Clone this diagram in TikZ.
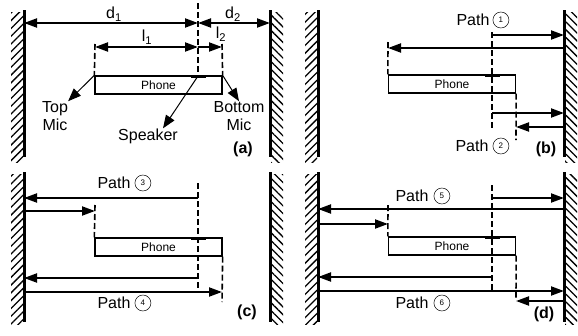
\documentclass[tikz,border=0pt]{standalone}
\usepackage{fontspec}
\setmainfont{Liberation Sans}
\usetikzlibrary{arrows.meta,patterns.meta,positioning}

\tikzset{
	wall/.style={line width=3pt},
	hatchL/.style={pattern={Lines[angle=45,distance=5.5pt,line width=1.3pt]}},
	hatchR/.style={pattern={Lines[angle=-45,distance=5.5pt,line width=1.3pt]}},
	guide/.style={line width=1.6pt, dash pattern=on 6pt off 3pt},
	ray/.style={line width=2pt, -{Triangle[length=13pt,width=9pt]}},
	dim/.style={line width=2pt, {Triangle[length=13pt,width=9pt]}-{Triangle[length=13pt,width=9pt]}},
	pointer/.style={line width=1pt, -{Triangle[length=13pt,width=10pt]}},
	phone/.style={draw, line width=1.3pt, minimum width=127pt, minimum height=18pt, inner sep=0pt, font=\fontsize{12}{14}\selectfont},
	spk/.style={line width=3pt},
	lbl/.style={font=\fontsize{16}{18}\selectfont, inner sep=0pt},
	tag/.style={font=\bfseries\fontsize{16}{18}\selectfont, inner sep=0pt},
	circ/.style={draw, circle, line width=0.5pt, minimum size=16pt, inner sep=0pt, font=\fontsize{8}{9}\selectfont}
}

\begin{document}
\begin{tikzpicture}[x=1pt, y=-1pt]
			\useasboundingbox (0,0) rectangle (578,335);

			% (a)
			\coordinate (aWL) at (24,10);
			\coordinate (aWR) at (270,10);
			\draw[wall]
				(aWL) -- (24,157);
			\path[hatchL]
				(11,12) rectangle (23,162);
			\draw[wall]
				(aWR) -- (270,157);
			\path[hatchR]
				(271,12) rectangle (283,162);
			\node[phone] (phA) at (158.5,85)
				{Phone};
			\coordinate (spkA) at (198,76);
			\draw[spk]
				(191,76) -- (206,76);
			\coordinate (sA0) at (198,3);
			\coordinate (tA0) at (95,44);
			\coordinate (bA0) at (222,44);
			\draw[guide]
				(sA0) -- (spkA);
			\draw[guide]
				(tA0) -- (phA.north west);
			\draw[guide]
				(bA0) -- (phA.north east);
			\coordinate (dA) at (198,23);
			\draw[dim]
				(aWL |- dA) -- (dA);
			\draw[dim]
				(dA) -- (aWR |- dA);
			\coordinate (lA) at (198,47);
			\draw[dim]
				(tA0 |- lA) -- (lA);
			\draw[ray]
				(lA) -- (bA0 |- lA);
			\node[lbl] (d1) at (114,14)
				{d\textsubscript{1}};
			\node[lbl] (d2) at (233,14)
				{d\textsubscript{2}};
			\node[lbl] (l1) at (147,37)
				{l\textsubscript{1}};
			\node[lbl] (l2) at (221,34)
				{l\textsubscript{2}};
			\node[lbl, align=center] (topmic) at (55,116)
				{Top\\Mic};
			\node[lbl, align=center] (botmic) at (239,116)
				{Bottom\\Mic};
			\node[lbl] (spkname) at (148,136)
				{Speaker};
			\draw[pointer]
				(phA.north west) -- (topmic.north east);
			\draw[pointer]
				(phA.north east) -- (botmic.north);
			\draw[pointer]
				(spkA) -- ([xshift=15pt]spkname.north);
			\node[tag] (tagA) at (243,149)
				{(a)};

			% (b)
			\coordinate (bWL) at (318,10);
			\coordinate (bWR) at (564,10);
			\draw[wall]
				(bWL) -- (318,157);
			\path[hatchL]
				(305,12) rectangle (317,162);
			\draw[wall]
				(bWR) -- (564,157);
			\path[hatchR]
				(565,12) rectangle (577,162);
			\node[phone] (phB) at (452,84)
				{Phone};
			\draw[spk]
				(485,75) -- (500,75);
			\coordinate (sB0) at (492,32);
			\coordinate (sB1) at (492,128);
			\coordinate (tB0) at (388,42);
			\coordinate (bB1) at (516,140);
			\draw[guide]
				(sB0) -- (sB1);
			\draw[guide]
				(tB0) -- (phB.north west);
			\draw[guide]
				(phB.south east) -- (bB1);
			\coordinate (rB1) at (492,35);
			\coordinate (rB2) at (388,48);
			\coordinate (rB3) at (492,113);
			\coordinate (rB4) at (516,127);
			\draw[ray]
				(rB1) -- (bWR |- rB1);
			\draw[ray]
				(bWR |- rB2) -- (rB2);
			\draw[ray]
				(rB3) -- (bWR |- rB3);
			\draw[ray]
				(bWR |- rB4) -- (rB4);
			\node[lbl] (pathB1) at (473,20)
				{Path};
			\node[circ, right=3pt of pathB1] (numB1)
				{1};
			\node[lbl] (pathB2) at (472,146)
				{Path};
			\node[circ, right=4pt of pathB2] (numB2)
				{2};
			\node[tag] (tagB) at (546,149)
				{(b)};

			% (c)
			\coordinate (cWL) at (24,172);
			\coordinate (cWR) at (270,172);
			\draw[wall]
				(cWL) -- (24,322);
			\path[hatchL]
				(11,174) rectangle (23,324);
			\draw[wall]
				(cWR) -- (270,322);
			\path[hatchR]
				(271,174) rectangle (283,324);
			\node[phone] (phC) at (158.5,247)
				{Phone};
			\draw[spk]
				(191,238) -- (206,238);
			\coordinate (sC0) at (198,183);
			\coordinate (sC1) at (198,288);
			\coordinate (tC0) at (95,205);
			\coordinate (bC1) at (222,302);
			\draw[guide]
				(sC0) -- (sC1);
			\draw[guide]
				(tC0) -- (phC.north west);
			\draw[guide]
				(phC.south east) -- (bC1);
			\coordinate (rC1) at (198,198);
			\coordinate (rC2) at (95,211);
			\coordinate (rC3) at (198,278);
			\coordinate (rC4) at (222,292);
			\draw[ray]
				(rC1) -- (cWL |- rC1);
			\draw[ray]
				(cWL |- rC2) -- (rC2);
			\draw[ray]
				(rC3) -- (cWL |- rC3);
			\draw[ray]
				(cWL |- rC4) -- (rC4);
			\node[lbl] (pathC3) at (114,183)
				{Path};
			\node[circ, right=4pt of pathC3] (numC3)
				{3};
			\node[lbl] (pathC4) at (114,303)
				{Path};
			\node[circ, right=4pt of pathC4] (numC4)
				{4};
			\node[tag] (tagC) at (247,312)
				{(c)};

			% (d)
			\coordinate (dWL) at (318,172);
			\coordinate (dWR) at (564,172);
			\draw[wall]
				(dWL) -- (318,322);
			\path[hatchL]
				(305,174) rectangle (317,324);
			\draw[wall]
				(dWR) -- (564,322);
			\path[hatchR]
				(565,174) rectangle (577,324);
			\node[phone] (phD) at (452,246)
				{Phone};
			\draw[spk]
				(485,237) -- (500,237);
			\coordinate (sD0) at (492,185);
			\coordinate (sD1) at (492,290);
			\coordinate (tD0) at (388,205);
			\coordinate (bD1) at (516,300);
			\draw[guide]
				(sD0) -- (sD1);
			\draw[guide]
				(tD0) -- (phD.north west);
			\draw[guide]
				(phD.south east) -- (bD1);
			\coordinate (rD1) at (492,198);
			\coordinate (rD2) at (318,209);
			\coordinate (rD3) at (388,224);
			\coordinate (rD4) at (492,277);
			\coordinate (rD5) at (318,291);
			\coordinate (rD6) at (516,301);
			\draw[ray]
				(rD1) -- (dWR |- rD1);
			\draw[ray]
				(dWR |- rD2) -- (rD2);
			\draw[ray]
				(dWL |- rD3) -- (rD3);
			\draw[ray]
				(rD4) -- (dWL |- rD4);
			\draw[ray]
				(rD5) -- (dWR |- rD5);
			\draw[ray]
				(dWR |- rD6) -- (rD6);
			\node[lbl] (pathD5) at (412,196)
				{Path};
			\node[circ, right=5pt of pathD5] (numD5)
				{5};
			\node[lbl] (pathD6) at (412,303)
				{Path};
			\node[circ, right=5pt of pathD6] (numD6)
				{6};
			\node[tag] (tagD) at (544,314)
				{(d)};

		\end{tikzpicture}
\end{document}
